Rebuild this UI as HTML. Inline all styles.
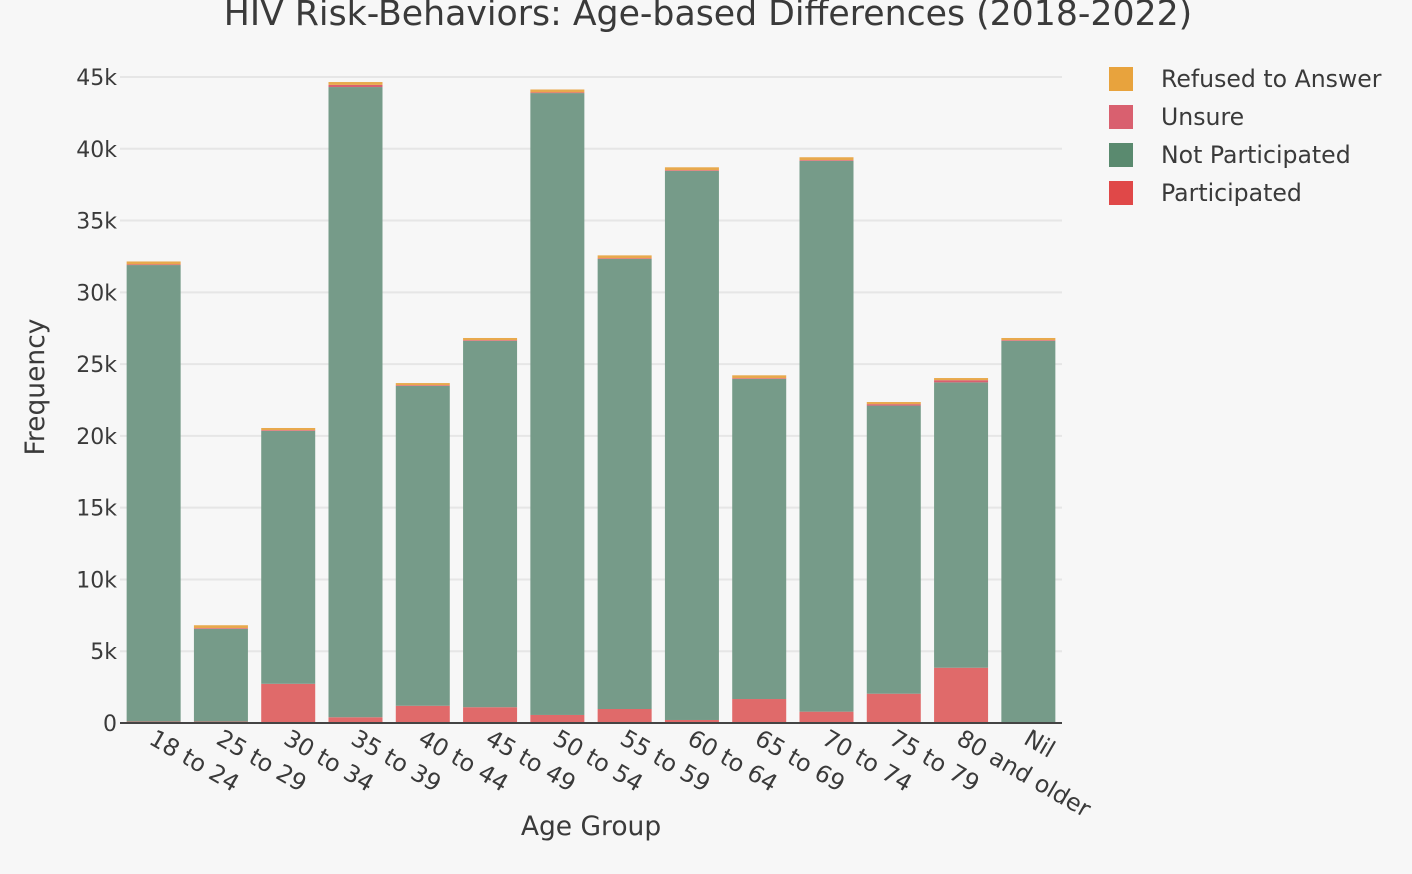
<!DOCTYPE html>
<html><head><meta charset="utf-8"><style>
body{margin:0;background:#f7f7f7;}
svg{display:block;font-family:"DejaVu Sans","Liberation Sans",sans-serif;}
</style></head><body>
<svg id="c" width="1412" height="874"></svg>
<script>
const categories=["18 to 24","25 to 29","30 to 34","35 to 39","40 to 44","45 to 49","50 to 54","55 to 59","60 to 64","65 to 69","70 to 74","75 to 79","80 and older","Nil"];
const participated=[100,100,2730,400,1200,1100,560,975,210,1670,790,2040,3850,70];
const notParticipated=[31800,6460,17620,43900,22280,25520,43320,31350,38250,22300,38370,20070,19880,26550];
const unsure=[50,50,50,150,50,50,50,50,50,50,50,100,150,50];
const refused=[200,200,150,200,150,150,200,200,200,200,200,150,150,150];
const yTicks=[0,5000,10000,15000,20000,25000,30000,35000,40000,45000];
const yTickLabels=["0","5k","10k","15k","20k","25k","30k","35k","40k","45k"];
const series=[
 {name:"Participated",vals:participated,color:"#e06a6a",legend:"#e04848"},
 {name:"Not Participated",vals:notParticipated,color:"#769b89",legend:"#5a8a6f"},
 {name:"Unsure",vals:unsure,color:"#d9606f",legend:"#d9606f"},
 {name:"Refused to Answer",vals:refused,color:"#e8a94d",legend:"#e8a33d"}];
const NS="http://www.w3.org/2000/svg";
const svg=document.getElementById('c');
const X0=120,X1=1062,Y0=723,Y1=77;
const TXT='#3a3a3a';
const y=v=>Y0-(v/45000)*(Y0-Y1);
const bw=(X1-X0)/categories.length;
const x=i=>X0+bw*i+bw/2;
function el(t,a,txt){const e=document.createElementNS(NS,t);for(const k in a)e.setAttribute(k,a[k]);if(txt!=null)e.textContent=txt;svg.appendChild(e);return e;}
let e=el('text',{x:708,y:25,'text-anchor':'middle','font-size':34.7,fill:TXT},"HIV Risk-Behaviors: Age-based Differences (2018-2022)");

yTicks.forEach((t,i)=>{
 if(t>0){const g=el('line',{x1:X0,x2:X1,y1:y(t),y2:y(t),stroke:'#e6e6e6','stroke-width':2});
 }
 const l=el('text',{x:117,y:y(t)+8,'text-anchor':'end','font-size':22,fill:TXT},yTickLabels[i]);
 
});
categories.forEach((c,i)=>{
 let base=0;
 series.forEach(s=>{
  const v=s.vals[i];
  const r=el('rect',{x:x(i)-27,width:54,y:y(base+v),height:y(base)-y(base+v),fill:s.color});
  
  base+=v;
 });
 const tx=x(i)-6,ty=Y0+20;
 const l=el('text',{x:tx,y:ty,'font-size':23.6,fill:TXT,transform:`rotate(30 ${tx} ${ty})`},c);
 
});
e=el('line',{x1:X0,x2:X1,y1:Y0,y2:Y0,stroke:'#444','stroke-width':2});

e=el('text',{x:591,y:835,'text-anchor':'middle','font-size':26.5,fill:TXT},"Age Group");

e=el('text',{x:44,y:387,'text-anchor':'middle','font-size':26.5,fill:TXT,transform:'rotate(-90 44 387)'},"Frequency");

[...series].reverse().forEach((s,i)=>{
 const yy=79+i*38;
 const r=el('rect',{x:1109,y:yy-12,width:24,height:24,fill:s.legend});
 
 const t=el('text',{x:1161,y:yy+8,'font-size':23.6,fill:TXT},s.name);
 
});
</script>
</body></html>
